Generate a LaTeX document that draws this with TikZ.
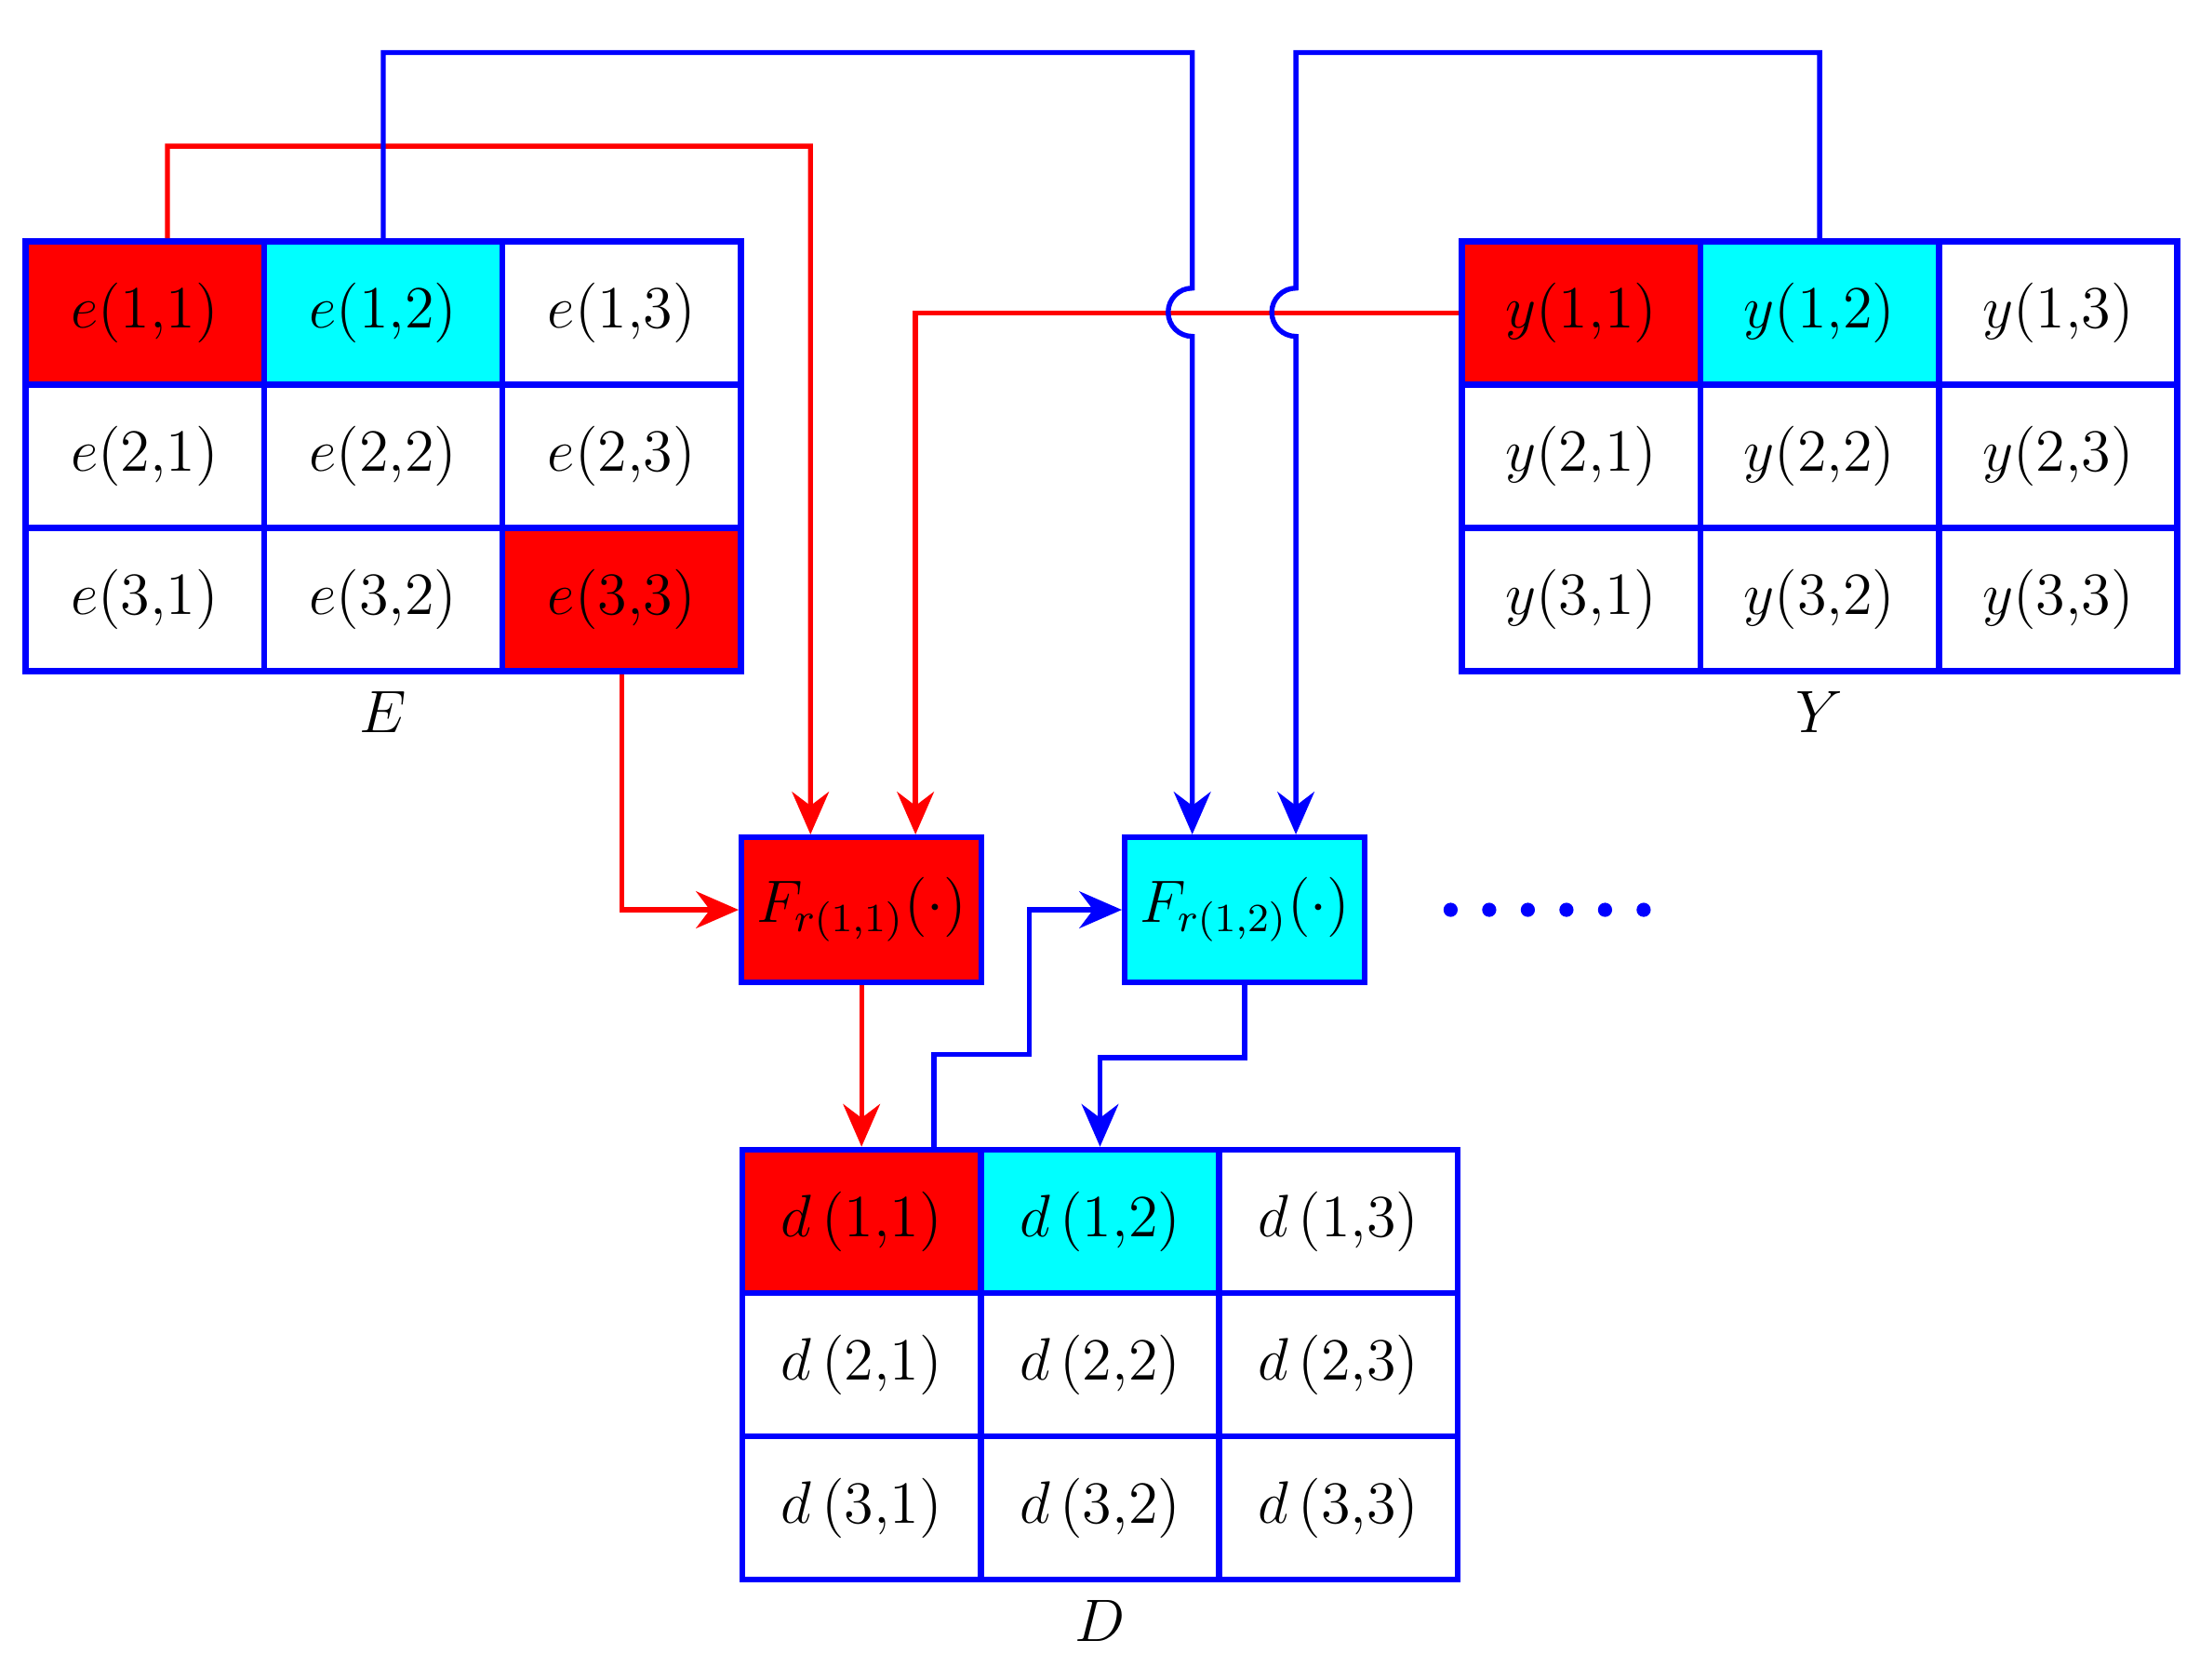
\documentclass[tikz,border=0pt]{standalone}
\usetikzlibrary{arrows.meta, positioning}
\definecolor{cellcyan}{RGB}{0,255,255}
\definecolor{cellred}{RGB}{255,0,0}
\tikzstyle{cell} = [rectangle, minimum width=16.8mm, minimum height=10.1mm, draw=blue, line width=1.2pt, font=\large, inner sep=0pt]
\tikzstyle{func} = [rectangle, minimum width=16.9mm, minimum height=10.2mm, draw=blue, line width=1.2pt, font=\large, inner sep=0pt]
\tikzstyle{redarrow} = [cellred, line width=1pt, -{Stealth[length=3mm,width=2.6mm]}]
\tikzstyle{bluearrow} = [blue, line width=1pt, -{Stealth[length=3mm,width=2.6mm]}]
\begin{document}
\begin{tikzpicture}[x=0.1mm, y=-0.1mm]
    \useasboundingbox (0,0) rectangle (1550,1183);

    % matrices E, Y, D
    \foreach \r/\c/\f in {1/1/cellred,1/2/cellcyan,1/3/white,2/1/white,2/2/white,2/3/white,3/1/white,3/2/white,3/3/cellred}
        \node (e\r\c) [cell, fill=\f] at ({18+84+168*(\c-1)}, {170+50.5+101*(\r-1)}) {$e(\r{,}\c)$};
    \foreach \r/\c/\f in {1/1/cellred,1/2/cellcyan,1/3/white,2/1/white,2/2/white,2/3/white,3/1/white,3/2/white,3/3/white}
        \node (y\r\c) [cell, fill=\f] at ({1030+84+168*(\c-1)}, {170+50.5+101*(\r-1)}) {$y(\r{,}\c)$};
    \foreach \r/\c/\f in {1/1/cellred,1/2/cellcyan,1/3/white,2/1/white,2/2/white,2/3/white,3/1/white,3/2/white,3/3/white}
        \node (d\r\c) [cell, fill=\f] at ({523+84+168*(\c-1)}, {810+50.5+101*(\r-1)}) {$d\,(\r{,}\c)$};

    \node (labE) [below=0pt of e32, font=\large] {$E$};
    \node (labY) [below=0pt of y32, font=\large] {$Y$};
    \node (labD) [below=0pt of d32, font=\large] {$D$};

    \node (F1) [func, fill=cellred] at (607,641) {$F_{r(1{,}1)}(\cdot)$};
    \node (F2) [func, fill=cellcyan] at (877,641) {$F_{r(1{,}2)}(\cdot)$};
    \foreach \i in {0,...,5}
        \fill[blue] ({1022+27.2*\i},641) circle (5);

    \draw [redarrow] ([xshift=1.6mm]e11.north) |- (571,103) -- ([xshift=-3.6mm]F1.north);
    \draw [redarrow] (y11.west) -| ([xshift=3.8mm]F1.north);
    \draw [bluearrow] (e12.north) |- (840,37) -- (840,203)
        arc[start angle=270, end angle=90, radius=17] -- ([xshift=-3.7mm]F2.north);
    \draw [bluearrow] (y12.north) |- (913,37) -- (913,203)
        arc[start angle=270, end angle=90, radius=17] -- ([xshift=3.6mm]F2.north);
    \draw [redarrow] (e33.south) |- (F1.west);
    \draw [redarrow] (F1.south) -- (d11.north);
    \draw [bluearrow] ([xshift=5.1mm]d11.north) |- (725,743) |- (F2.west);
    \draw [bluearrow] (F2.south) -- ++(0,51) -| (d12.north);

\end{tikzpicture}
\end{document}
